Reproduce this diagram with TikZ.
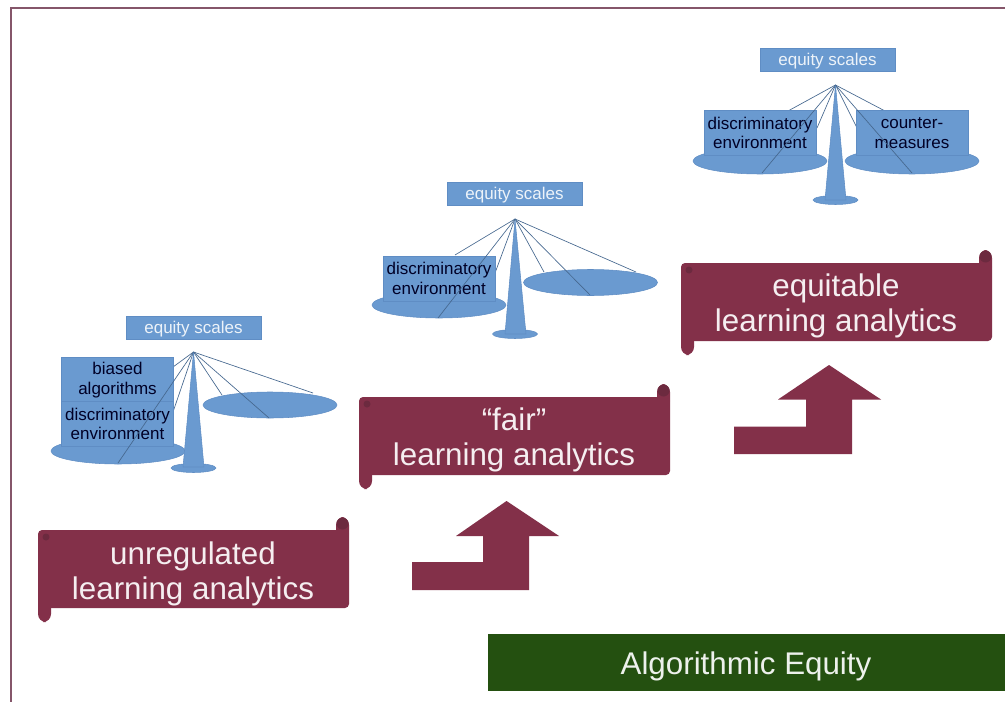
\documentclass[tikz,border=0pt]{standalone}
\usepackage{fontspec}
\setmainfont{Liberation Sans}
\usetikzlibrary{shapes.geometric}
\definecolor{scalefill}{HTML}{6A9AD0}
\definecolor{scaleedge}{HTML}{5F8DC4}
\definecolor{scaleline}{HTML}{46688F}
\definecolor{maroon}{HTML}{833049}
\definecolor{maroondark}{HTML}{6C2A3F}
\definecolor{framecol}{HTML}{85566A}
\definecolor{darkgreen}{HTML}{245010}
\tikzset{
  tag/.style={draw=scaleedge,fill=scalefill,text=white!88!scalefill,minimum width=101pt,minimum height=17pt,inner sep=0pt,text height=12.2pt,text depth=2.7pt,font=\fontsize{12.75}{14.5}\selectfont},
  load/.style={draw=scaleedge,fill=scalefill,text=black!85!blue,minimum width=84pt,minimum height=34pt,inner sep=0pt,align=center,font=\fontsize{12.75}{14.5}\selectfont},
  pan/.style={ellipse,draw=scaleedge,fill=scalefill,minimum width=100.5pt,minimum height=19.5pt,inner sep=0pt},
  foot/.style={ellipse,draw=scaleedge,fill=scalefill,minimum width=33.75pt,minimum height=6.75pt,inner sep=0pt},
  stem/.style={draw=scaleedge,fill=scalefill,line join=round},
  wire/.style={draw=scaleline,line width=.5pt},
  title/.style={text=white!92!maroon,align=center,font=\fontsize{23.5}{26.2}\selectfont},
  uparrow/.style={fill=maroon},
  banner/.pic={
    \fill[maroon,rounded corners=3] (0,0) rectangle (311,78);
    \fill[maroon,rounded corners=6] (298,-13) rectangle (311,12);
    \fill[maroon,rounded corners=6] (0,60) rectangle (13,92);
    \fill[maroondark] (304.5,-6.5) circle (6);
    \fill[maroondark] (8,7) circle (3.5);
  }
}
\begin{document}
\begin{tikzpicture}[x=.75pt,y=-.75pt]
\useasboundingbox (0,0) rectangle (1005,702);
\draw[framecol,line width=1.1pt] (1005,8) -- (11,8) -- (11,702);

% unregulated
\coordinate (topa) at (193.5,352);
\coordinate (wa1) at (173,367);
\coordinate (wa2) at (173,412);
\coordinate (wa3) at (118,463);
\coordinate (wa4) at (222,395);
\coordinate (wa5) at (269,418);
\coordinate (wa6) at (313,393);
\coordinate (stemal) at (183,467);
\coordinate (stemar) at (204,467);
\node[tag] (taga) at (193.5,327.5) {equity scales};
\draw[wire] (topa) -- (wa1);
\draw[wire] (topa) -- (wa2);
\draw[wire] (topa) -- (wa4);
\draw[wire] (topa) -- (wa6);
\node[foot] (foota) at (193.5,468) {};
\node[pan] (panal) at (118,451) {};
\node[pan] (panar) at (270,405) {};
\node[load] (biased) at (117.5,380) {biased\\algorithms};
\node[load] (enva) at (117.5,424) {discriminatory\\environment};
\draw[stem] (topa) -- (stemal) -- (stemar) -- cycle;
\draw[wire] (topa) -- (wa3);
\draw[wire] (topa) -- (wa5);

% fair
\coordinate (topb) at (515,219);
\coordinate (wb1) at (455,255);
\coordinate (wb2) at (495,273);
\coordinate (wb3) at (438,318);
\coordinate (wb4) at (544,272);
\coordinate (wb5) at (590,295);
\coordinate (wb6) at (636,272);
\coordinate (stembl) at (505,334);
\coordinate (stembr) at (526,334);
\node[tag] (tagb) at (514.5,193.5) {equity scales};
\draw[wire] (topb) -- (wb1);
\draw[wire] (topb) -- (wb2);
\draw[wire] (topb) -- (wb4);
\draw[wire] (topb) -- (wb6);
\node[foot] (footb) at (515,334) {};
\node[pan] (panbl) at (439,305) {};
\node[pan] (panbr) at (590.5,282.5) {};
\node[load] (envb) at (439,278.5) {discriminatory\\environment};
\draw[stem] (topb) -- (stembl) -- (stembr) -- cycle;
\draw[wire] (topb) -- (wb3);
\draw[wire] (topb) -- (wb5);

% equitable
\coordinate (topc) at (835.5,85);
\coordinate (wc1) at (788,111);
\coordinate (wc2) at (817,128);
\coordinate (wc3) at (762,173);
\coordinate (wc4) at (857,128);
\coordinate (wc5) at (912,173);
\coordinate (wc6) at (885,111);
\coordinate (stemcl) at (825,200);
\coordinate (stemcr) at (846,200);
\node[tag] (tagc) at (827.5,59.5) {equity scales};
\draw[wire] (topc) -- (wc1);
\draw[wire] (topc) -- (wc2);
\draw[wire] (topc) -- (wc4);
\draw[wire] (topc) -- (wc6);
\node[foot] (footc) at (835.5,200) {};
\node[pan] (pancl) at (760,161) {};
\node[pan] (pancr) at (912,161) {};
\node[load] (envc) at (760,133) {discriminatory\\environment};
\node[load] (counter) at (912,133) {counter-\\measures};
\draw[stem] (topc) -- (stemcl) -- (stemcr) -- cycle;
\draw[wire] (topc) -- (wc3);
\draw[wire] (topc) -- (wc5);

% banners
\pic at (38,530) {banner};
\node[title] (unreg) at (193,573.5) {unregulated\\learning analytics};
\pic at (359,397) {banner};
\node[title] (fair) at (514,440) {“fair”\\learning analytics};
\pic at (681,263) {banner};
\node[title] (equit) at (836,306) {equitable\\learning analytics};

% steps
\fill[uparrow] (412,562) -- (483,562) -- (483,536) -- (456,536) -- (506.5,501) -- (559,536) -- (529,536) -- (529,590) -- (412,590) -- cycle;
\fill[uparrow] (734,426.5) -- (806,426.5) -- (806,399.5) -- (778,399.5) -- (829,365) -- (881,399.5) -- (852,399.5) -- (852,454) -- (734,454) -- cycle;

% caption
\fill[darkgreen] (488,634) rectangle (1005,691);
\node[text=white!92!darkgreen,font=\fontsize{23.5}{26.2}\selectfont] (algo) at (746,666) {Algorithmic Equity};
\end{tikzpicture}
\end{document}
